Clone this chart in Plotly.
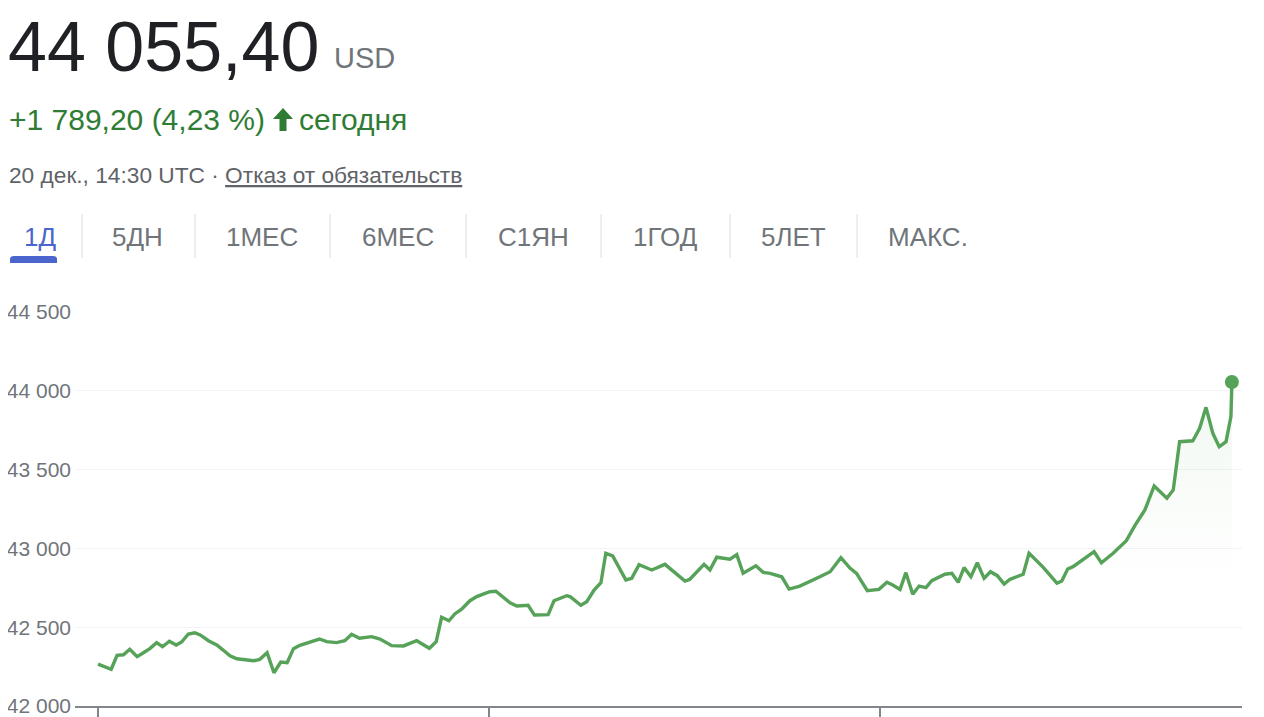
import plotly.graph_objects as go

# ---- data (hours since start of the 1D window, price in USD) ----
hours = [0.00, 0.27, 0.39, 0.52, 0.65, 0.80, 0.93, 1.06, 1.20, 1.32, 1.46, 1.60, 1.71, 1.85, 1.98, 2.09,
         2.26, 2.43, 2.56, 2.70, 2.84, 3.01, 3.18, 3.31, 3.46, 3.60, 3.74, 3.87, 4.00, 4.13, 4.34, 4.53,
         4.68, 4.88, 5.05, 5.19, 5.35, 5.60, 5.77, 6.01, 6.25, 6.52, 6.78, 6.92, 7.03, 7.18, 7.30, 7.44,
         7.61, 7.75, 7.92, 8.02, 8.14, 8.29, 8.43, 8.57, 8.80, 8.93, 9.21, 9.33, 9.59, 9.66, 9.88, 10.00,
         10.15, 10.29, 10.39, 10.53, 10.80, 10.92, 11.07, 11.33, 11.60, 12.01, 12.11, 12.40, 12.52, 12.66,
         12.83, 12.93, 13.07, 13.20, 13.46, 13.61, 13.75, 13.99, 14.14, 14.36, 14.77, 14.98, 15.20, 15.39,
         15.52, 15.74, 15.98, 16.14, 16.26, 16.41, 16.53, 16.67, 16.80, 16.94, 17.06, 17.19, 17.33, 17.47,
         17.60, 17.72, 17.86, 17.99, 18.13, 18.26, 18.40, 18.54, 18.66, 18.93, 19.05, 19.34, 19.62, 19.72,
         19.84, 19.95, 20.12, 20.38, 20.53, 20.77, 21.04, 21.22, 21.42, 21.61, 21.87, 22.00, 22.13, 22.40,
         22.54, 22.67, 22.81, 22.94, 23.08, 23.18, 23.20]
prices = [42266, 42233, 42322, 42325, 42360, 42313, 42338, 42364, 42402, 42376, 42411, 42387, 42406, 42457, 42465, 42451,
          42414, 42387, 42355, 42319, 42300, 42292, 42287, 42296, 42338, 42211, 42279, 42275, 42364, 42385, 42406, 42425,
          42408, 42402, 42414, 42455, 42430, 42440, 42425, 42383, 42381, 42414, 42366, 42408, 42563, 42541, 42584, 42614,
          42668, 42694, 42715, 42725, 42728, 42687, 42655, 42635, 42639, 42577, 42580, 42668, 42700, 42694, 42639, 42662,
          42736, 42782, 42969, 42952, 42800, 42810, 42897, 42863, 42899, 42793, 42804, 42899, 42863, 42944,
          42933, 42931, 42960, 42842, 42890, 42848, 42842, 42820, 42742, 42761, 42820, 42852, 42941, 42874,
          42842, 42732, 42740, 42785, 42768, 42740, 42846, 42709, 42761, 42751, 42795, 42814, 42836, 42842,
          42785, 42878, 42820, 42909, 42810, 42852, 42827, 42774, 42804, 42836, 42969, 42880, 42779, 42793,
          42869, 42884, 42922, 42979, 42909, 42969, 43049, 43148, 43244, 43396, 43318, 43371, 43677, 43683,
          43762, 43895, 43730, 43645, 43677, 43836, 44055.40]

y_ticks = [42000, 42500, 43000, 43500, 44000, 44500]
y_tick_labels = ["42 000", "42 500", "43 000", "43 500", "44 000", "44 500"]
x_ticks = [0, 8, 16]
tabs = ["1Д", "5ДН", "1МЕС", "6МЕС", "С1ЯН", "1ГОД", "5ЛЕТ", "МАКС."]

# page body has an 8px margin; figure fills the rest of the 1264x717 window
OFF = 8
W, H = 1264 - OFF, 717 - OFF
FONT = "Liberation Sans, Arial, Helvetica, sans-serif"
GREEN_LINE = "#55a258"
GREEN_TEXT = "#2f7d34"
GRAY = "#70757a"
BLUE = "#4a66cc"

def px(x):
    return (x - OFF) / W

def py(y):
    return 1 - (y - OFF) / H

fig = go.Figure()

# faint gradient fill under the final rally
n0 = next(i for i, h in enumerate(hours) if h >= 20.3)
fig.add_trace(go.Scatter(
    x=hours[n0:], y=prices[n0:], mode="lines", line=dict(width=0, color="rgba(0,0,0,0)"),
    fill="tozeroy",
    fillgradient=dict(type="vertical", start=42800, stop=44000,
                      colorscale=[[0, "rgba(85,162,88,0)"], [1, "rgba(85,162,88,0.08)"]]),
    hoverinfo="skip", showlegend=False))

fig.add_trace(go.Scatter(
    x=hours, y=prices, mode="lines",
    line=dict(color=GREEN_LINE, width=3.4, shape="linear"),
    showlegend=False, hoverinfo="x+y"))

fig.add_trace(go.Scatter(
    x=[hours[-1]], y=[prices[-1]], mode="markers",
    marker=dict(color=GREEN_LINE, size=14, line=dict(width=0)),
    showlegend=False))

x_left = (75 - 98) / 391 * 8
x_right = (1242 - 98) / 391 * 8

fig.update_layout(
    width=W, height=H,
    margin=dict(l=0, r=0, t=0, b=0, pad=0),
    paper_bgcolor="white", plot_bgcolor="white",
    font=dict(family=FONT, color=GRAY),
    xaxis=dict(domain=[px(75), px(1242)], range=[x_left, x_right], automargin=False,
               showgrid=False, zeroline=False, showline=True, linecolor="#80868b", linewidth=2,
               tickvals=x_ticks, ticks="outside", ticklen=14, tickwidth=2, tickcolor="#80868b",
               showticklabels=False, fixedrange=True),
    yaxis=dict(domain=[py(706), py(312)], range=[42000, 44500], automargin=False,
               tickvals=y_ticks, ticktext=y_tick_labels, ticklabeloverflow="allow",
               showgrid=True, gridcolor="#f1f3f4", gridwidth=1, zeroline=False,
               showline=False, ticks="", tickfont=dict(size=21, color=GRAY, family=FONT),
               ticklabelstandoff=3, fixedrange=True),
)

annotations = []
def txt(x, y, text, size, color, anchor="left"):
    annotations.append(dict(x=px(x), y=py(y), xref="paper", yref="paper", text=text,
                            showarrow=False, xanchor=anchor, yanchor="middle",
                            font=dict(size=size, color=color, family=FONT)))

txt(6, 47, "44 055,40", 70, "#202124")
txt(332, 58, "USD", 29, GRAY)
txt(7, 120, "+1 789,20 (4,23 %)", 30, GREEN_TEXT)
txt(297, 120, "сегодня", 30, GREEN_TEXT)
txt(7, 175, "20 дек., 14:30 UTC · <span style='text-decoration:underline'>Отказ от обязательств</span>",
    22.7, "#5f6368")

tab_centers = [40, 137, 262, 398, 533, 665, 793, 928]
for i, (t, c) in enumerate(zip(tabs, tab_centers)):
    txt(c, 237, t, 26, BLUE if i == 0 else GRAY, anchor="center")

fig.update_layout(annotations=annotations)

shapes = []
# separators between tabs
for sx in [82, 195, 330, 466, 601, 730, 857]:
    shapes.append(dict(type="line", xref="paper", yref="paper", x0=px(sx), x1=px(sx),
                       y0=py(214), y1=py(258), line=dict(color="#dadce0", width=1)))
# active tab underline (rounded top)
ux0, ux1, uy0, uy1 = 10, 57, 256, 263
path = (f"M {px(ux0)},{py(uy1)} L {px(ux0)},{py(uy0+3)} Q {px(ux0)},{py(uy0)} {px(ux0+4)},{py(uy0)} "
        f"L {px(ux1-4)},{py(uy0)} Q {px(ux1)},{py(uy0)} {px(ux1)},{py(uy0+3)} L {px(ux1)},{py(uy1)} Z")
shapes.append(dict(type="path", xref="paper", yref="paper", path=path,
                   fillcolor=BLUE, line=dict(width=0)))
# up arrow icon
ax = 283
arrow = (f"M {px(ax)},{py(108)} L {px(ax+10)},{py(119)} L {px(ax+3.5)},{py(119)} L {px(ax+3.5)},{py(131)} "
         f"L {px(ax-3.5)},{py(131)} L {px(ax-3.5)},{py(119)} L {px(ax-10)},{py(119)} Z")
shapes.append(dict(type="path", xref="paper", yref="paper", path=arrow,
                   fillcolor=GREEN_TEXT, line=dict(width=0)))
fig.update_layout(shapes=shapes)

fig.write_html("out.html")
